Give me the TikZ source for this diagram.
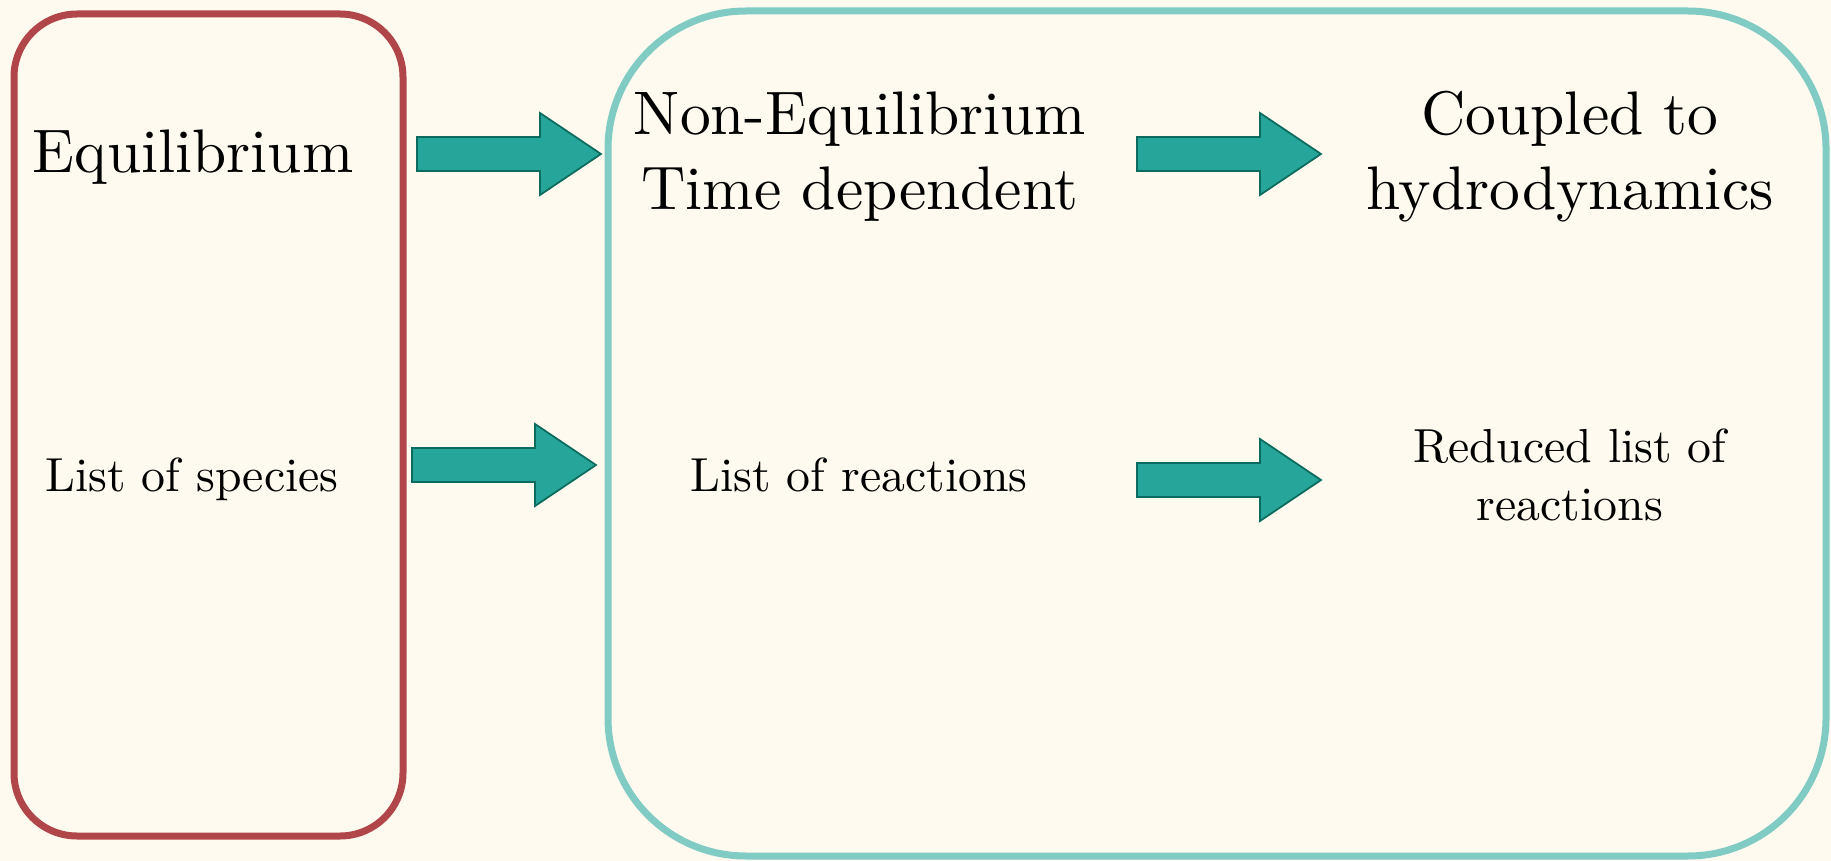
\documentclass[tikz,border=0pt]{standalone}
\usepackage{tikz}
\usepackage{xcolor}

\begin{document}
\begin{tikzpicture}[x=0.02cm, y=-0.02cm,
    bigtext/.style={anchor=base, inner sep=0pt, scale=3.5, transform shape},
    smalltext/.style={anchor=base, inner sep=0pt, scale=2.72, transform shape},
    fatarrow/.pic={
      \filldraw[arrowFill, draw=arrowEdge, line width=1pt]
        (0,-17) -- (123,-17) -- (123,-41) -- (184,0) -- (123,41) -- (123,17) -- (0,17) -- cycle;
    }]
                \definecolor{paper}{HTML}{FEFAF0}
                \definecolor{redLayer}{HTML}{B04649}
                \definecolor{tealLayer}{HTML}{80CBC4}
                \definecolor{arrowFill}{HTML}{26A69A}
                \definecolor{arrowEdge}{HTML}{0B6B5E}
                \def\grosor{7}
                % fondo
                \fill[paper] (0,0) rectangle (1831,861);
                \useasboundingbox (0,0) rectangle (1831,861);
                % cajas
                \draw[redLayer, line width=\grosor*0.02cm, rounded corners=63*0.02cm]
                  (14,14) rectangle (403,836);
                \draw[tealLayer, line width=\grosor*0.02cm, rounded corners=138*0.02cm]
                  (608,11) rectangle (1826,856);
                % textos
                \node[bigtext] (equil) at (193,173) {Equilibrium};
                \node[bigtext] (noneqA) at (860,135) {Non-Equilibrium};
                \node[bigtext] (noneqB) at (860,210) {Time dependent};
                \node[bigtext] (hydroA) at (1570,135) {Coupled to};
                \node[bigtext] (hydroB) at (1570,210) {hydrodynamics};
                \node[smalltext] (species) at (192,491) {List of species};
                \node[smalltext] (reac) at (859,491) {List of reactions};
                \node[smalltext] (redA) at (1570,462) {Reduced list of};
                \node[smalltext] (redB) at (1570,520) {reactions};
                % flechas
                \foreach \x/\y in {417/154, 412/465, 1137/154, 1137/480} {
                  \pic at (\x,\y) {fatarrow};
                }
              \end{tikzpicture}
\end{document}
